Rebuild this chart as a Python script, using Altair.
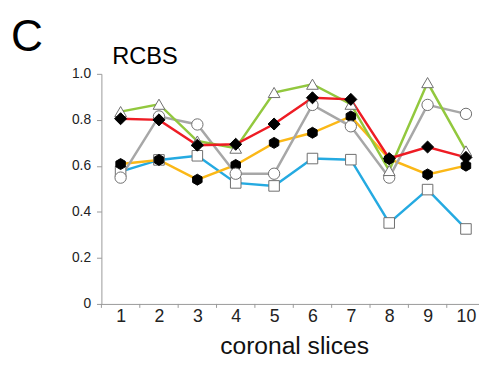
import altair as alt
import pandas as pd

slices = [1, 2, 3, 4, 5, 6, 7, 8, 9, 10]
series_names = ["blue", "yellow", "gray", "green", "red"]
blue = [0.575, 0.626, 0.644, 0.526, 0.513, 0.632, 0.627, 0.352, 0.497, 0.326]
yellow = [0.608, 0.626, 0.540, 0.604, 0.700, 0.744, 0.815, 0.630, 0.563, 0.601]
gray = [0.549, 0.815, 0.780, 0.566, 0.566, 0.865, 0.772, 0.549, 0.865, 0.826]
green = [0.836, 0.868, 0.708, 0.677, 0.919, 0.955, 0.868, 0.580, 0.962, 0.665]
red = [0.805, 0.800, 0.690, 0.694, 0.782, 0.896, 0.889, 0.632, 0.682, 0.637]

line_colors = ["#25aae1", "#fbb817", "#a7a7a7", "#92c83e", "#ee1c24"]
hexagon = "M0,-1L0.866,-0.5L0.866,0.5L0,1L-0.866,0.5L-0.866,-0.5Z"
shapes = ["square", hexagon, "circle", "triangle-up", "diamond"]
fills = ["white", "black", "white", "white", "black"]
strokes = ["#6d6d6d", "black", "#6d6d6d", "#6d6d6d", "black"]
sizes = [115, 150, 130, 150, 85]

tick_positions = [0.5, 1.5, 2.5, 3.5, 4.5, 5.5, 6.5, 7.5, 8.5, 9.5]
panel_letter = ["C"]
panel_title = ["RCBS"]
x_title = "coronal slices"

rows = []
for name, vals in zip(series_names, [blue, yellow, gray, green, red]):
    for s, v in zip(slices, vals):
        rows.append({"slice": s, "value": v, "series": name})
df = pd.DataFrame(rows)

xscale = alt.Scale(domain=[0.5, 10.34], nice=False, zero=False)
yscale = alt.Scale(domain=[0, 1], nice=False)

x_axis = alt.Axis(
    values=slices, ticks=False, grid=False, labelFontSize=18, labelPadding=4,
    labelColor="#222222", domainColor="#999999", title=x_title, titleFontSize=25,
    titleFontWeight="normal", titleColor="#111111", titleBaseline="alphabetic",
    titleY=50, titleX=196, titleAlign="center", labelFlush=False,
)
y_axis = alt.Axis(
    values=[0, 0.2, 0.4, 0.6, 0.8, 1.0], grid=False, tickSize=5, tickColor="#999999",
    domainColor="#999999", labelFontSize=14, labelPadding=6, labelColor="#222222",
    labelExpr="datum.value == 0 ? '0' : format(datum.value, '.1f')", title=None,
)

color_scale = alt.Scale(domain=series_names, range=line_colors)

lines = alt.Chart(df).mark_line(strokeWidth=2.5).encode(
    x=alt.X("slice:Q", scale=xscale, axis=x_axis),
    y=alt.Y("value:Q", scale=yscale, axis=y_axis),
    color=alt.Color("series:N", scale=color_scale, legend=None),
    detail="series:N",
)

points = alt.Chart(df).mark_point(filled=False, strokeWidth=1, opacity=1).encode(
    x=alt.X("slice:Q", scale=xscale),
    y=alt.Y("value:Q", scale=yscale),
    shape=alt.Shape("series:N", scale=alt.Scale(domain=series_names, range=shapes), legend=None),
    fill=alt.Fill("series:N", scale=alt.Scale(domain=series_names, range=fills), legend=None),
    stroke=alt.Stroke("series:N", scale=alt.Scale(domain=series_names, range=strokes), legend=None),
    size=alt.Size("series:N", scale=alt.Scale(domain=series_names, range=sizes), legend=None),
)

ticks = alt.Chart(pd.DataFrame({"t": tick_positions})).mark_rule(color="#999999", strokeWidth=1).encode(
    x=alt.X("t:Q", scale=xscale),
    y=alt.value(234),
    y2=alt.value(238),
)

letter = alt.Chart(pd.DataFrame({"t": panel_letter})).mark_text(
    fontSize=45, font="Liberation Sans", align="left", baseline="alphabetic", color="black"
).encode(text="t:N", x=alt.value(-92), y=alt.value(-23))

title = alt.Chart(pd.DataFrame({"t": panel_title})).mark_text(
    fontSize=24, font="Liberation Sans", align="left", baseline="alphabetic", color="black"
).encode(text="t:N", x=alt.value(11), y=alt.value(-10))

chart = alt.layer(ticks, lines, points, letter, title).properties(
    width=384, height=234,
    autosize=alt.AutoSizeParams(type="none"),
    padding={"left": 95, "top": 64, "right": 0, "bottom": 52},
).configure(font="Liberation Sans").configure_view(stroke=None)

chart.save("out.html", embed_options={"renderer": "svg", "actions": False})
